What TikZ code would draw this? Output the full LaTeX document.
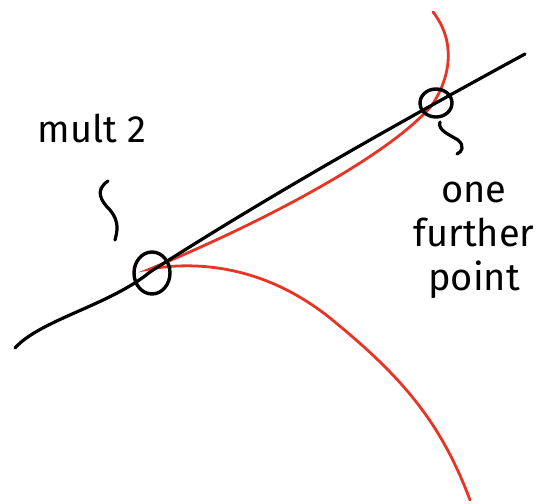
\documentclass[tikz,border=0pt]{standalone}
\usepackage{fontspec}
\setmainfont{Fira Sans}
\usetikzlibrary{shapes.geometric}
\definecolor{sketchred}{RGB}{232,52,36}
\begin{document}
\begin{tikzpicture}[x=1pt,y=-1pt,
  ink/.style={line width=3.2pt,line cap=round,line join=round},
  redink/.style={line width=2.8pt,line cap=round,draw=sketchred},
  ring/.style={draw,ellipse,line width=3.4pt,inner sep=0pt},
  note/.style={font=\fontsize{38}{44}\selectfont,align=center,inner sep=0pt}]
\useasboundingbox (0,0) rectangle (555,504);
% red curve (cuspidal cubic)
\coordinate (cusp) at (150,269);
\draw[redink] (433,12) .. controls (455,40) and (452,75) .. (432,105)
  .. controls (395,150) and (280,215) .. (cusp)
  .. controls (190,262) and (260,262) .. (330,318)
  .. controls (400,375) and (440,420) .. (470,500);
% black line
\draw[ink] (15,348) .. controls (40,320) and (110,305) .. (150,272)
  .. controls (270,195) and (400,122) .. (525,54);
% circles
\node[ring,minimum width=36pt,minimum height=42pt] (c1) at (152,273) {};
\node[ring,minimum width=32pt,minimum height=28pt] (c2) at (436,103) {};
% labels
\node[note] (mult) at (92,128) {mult 2};
\node[note] (one) at (474,240) {one\\further\\point};
% squiggles
\coordinate (s1a) at (108,181);
\coordinate (s1b) at (115,240);
\draw[ink] (s1a) .. controls (95,190) and (100,200) .. (110,210)
  .. controls (120,222) and (117,232) .. (s1b);
\coordinate (s2a) at (440,122);
\coordinate (s2b) at (457,154);
\draw[ink] (s2a) .. controls (437,130) and (450,135) .. (458,140)
  .. controls (465,146) and (462,152) .. (s2b);
\end{tikzpicture}
\end{document}
